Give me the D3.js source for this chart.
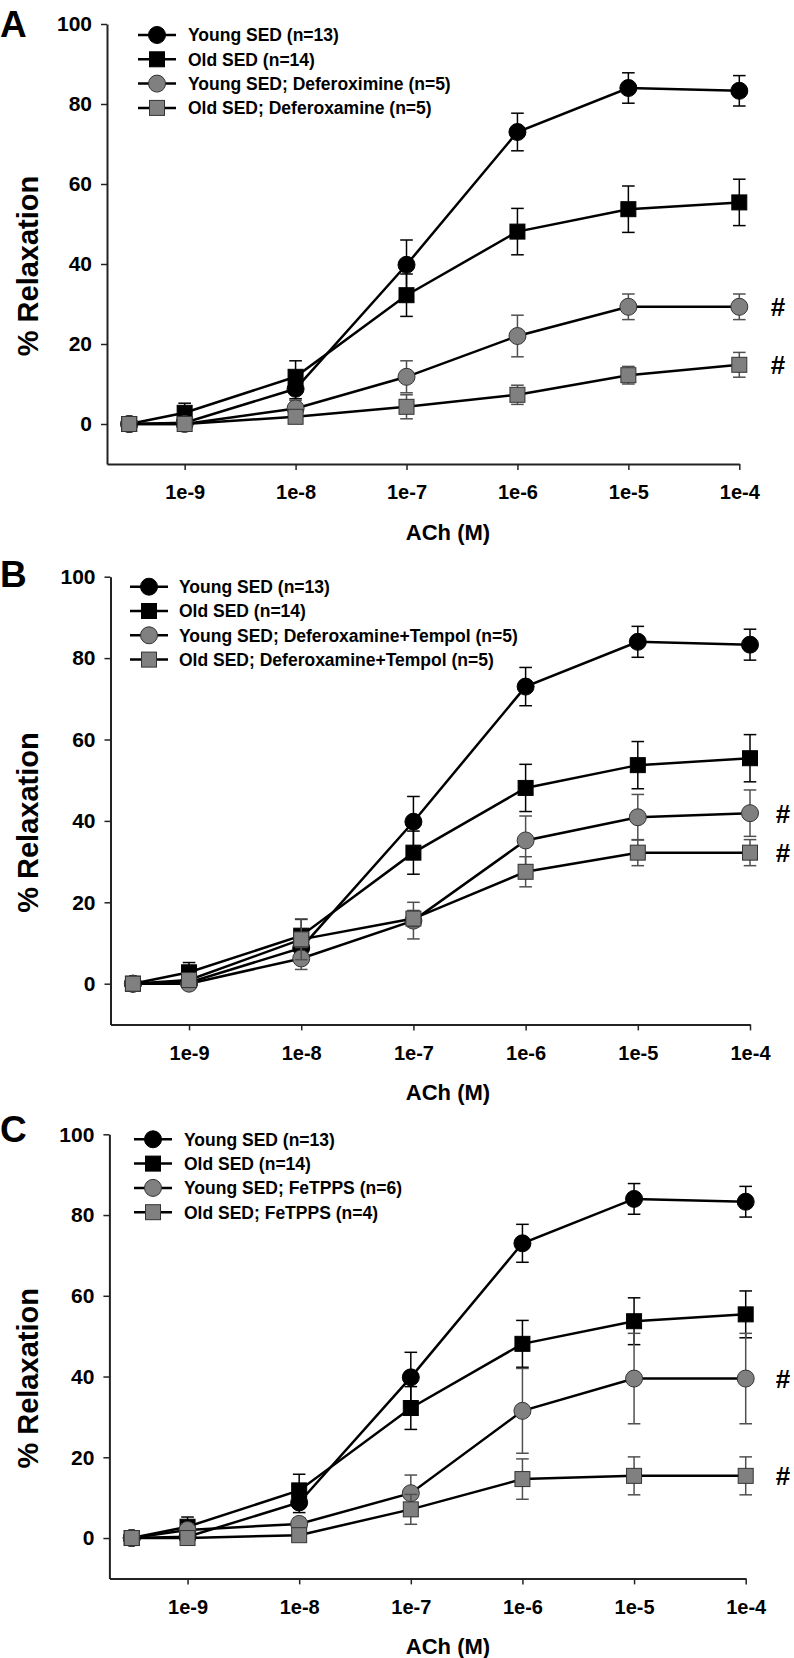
<!DOCTYPE html>
<html>
<head>
<meta charset="utf-8">
<script src="https://cdn.jsdelivr.net/npm/d3@7"></script>
<style>
  html, body { margin: 0; padding: 0; background: #fff; }
  svg text { font-family: "Liberation Sans", Arial, sans-serif; font-weight: bold; }
</style>
</head>
<body>
<svg id="chart" width="794" height="1658"></svg>
<script>
// ---------------- DATA ----------------
// log10 of ACh concentration (M); first point is the baseline (no ACh)
const logDose = [-9.5, -9, -8, -7, -6, -5, -4];
const xTickValues = [-9, -8, -7, -6, -5, -4];
const xTickLabels = ["1e-9", "1e-8", "1e-7", "1e-6", "1e-5", "1e-4"];
const yTickValues = [0, 20, 40, 60, 80, 100];

const youngSED    = [0, 0.3, 8.8, 39.8, 73.0, 84.0, 83.3];
const youngSEDErr = [0.5, 1.0, 2.5, 6.2, 4.7, 3.8, 3.8];
const oldSED      = [0, 2.8, 11.8, 32.2, 48.1, 53.7, 55.4];
const oldSEDErr   = [0.5, 2.4, 4.0, 5.3, 5.8, 5.8, 5.8];

const youngDef    = [0, 0, 3.9, 11.8, 22.0, 29.3, 29.3];
const youngDefErr = [1.8, 1.0, 2.0, 4.0, 5.2, 3.2, 3.2];
const oldDef      = [0, 0, 1.8, 4.3, 7.3, 12.2, 14.8];
const oldDefErr   = [1.8, 1.0, 1.0, 3.0, 2.4, 2.2, 3.1];

const youngDT     = [0, 0, 6.2, 15.5, 35.2, 40.9, 41.9];
const youngDTErr  = [1.5, 1.0, 2.7, 4.5, 6.0, 5.6, 5.7];
const oldDT       = [0, 0.9, 10.9, 16.0, 27.5, 32.2, 32.2];
const oldDTErr    = [1.5, 1.0, 5.0, 2.0, 3.7, 3.2, 3.2];

const youngFe     = [0, 2.0, 3.5, 11.1, 31.5, 39.5, 39.5];
const youngFeErr  = [1.5, 1.5, 1.5, 4.5, 10.5, 11.2, 11.2];
const oldFe       = [0, 0, 0.7, 7.1, 14.6, 15.4, 15.4];
const oldFeErr    = [1.5, 1.0, 1.0, 3.7, 5.0, 4.7, 4.7];

const legendA = ["Young SED (n=13)", "Old SED (n=14)", "Young SED; Deferoximine (n=5)", "Old SED; Deferoxamine (n=5)"];
const legendB = ["Young SED (n=13)", "Old SED (n=14)", "Young SED; Deferoxamine+Tempol (n=5)", "Old SED; Deferoxamine+Tempol (n=5)"];
const legendC = ["Young SED (n=13)", "Old SED (n=14)", "Young SED; FeTPPS (n=6)", "Old SED; FeTPPS (n=4)"];

const xTitle = "ACh (M)";
const yTitle = "% Relaxation";

// ---------------- LAYOUT ----------------
const panels = [
  { letter: "A", x0: 107, x1: 739.3, yTop: 24, yBot: 464, legX: 157, legTextX: 188, legY: 35, hashX: 778,
    labels: legendA, series: [[youngSED, youngSEDErr], [oldSED, oldSEDErr], [youngDef, youngDefErr], [oldDef, oldDefErr]],
    letterY: 37 },
  { letter: "B", x0: 110.5, x1: 750, yTop: 576.7, yBot: 1024.4, legX: 149, legTextX: 179, legY: 586.7, hashX: 783,
    labels: legendB, series: [[youngSED, youngSEDErr], [oldSED, oldSEDErr], [youngDT, youngDTErr], [oldDT, oldDTErr]],
    letterY: 587 },
  { letter: "C", x0: 109.4, x1: 745.7, yTop: 1134.3, yBot: 1578.4, legX: 153, legTextX: 184, legY: 1139.3, hashX: 783,
    labels: legendC, series: [[youngSED, youngSEDErr], [oldSED, oldSEDErr], [youngFe, youngFeErr], [oldFe, oldFeErr]],
    letterY: 1142 }
];

const styles = [
  { shape: "circle", fill: "#000", stroke: "#000", err: "#000" },
  { shape: "square", fill: "#000", stroke: "#000", err: "#000" },
  { shape: "circle", fill: "#808080", stroke: "#333", err: "#505050" },
  { shape: "square", fill: "#808080", stroke: "#333", err: "#505050" }
];

const svg = d3.select("#chart");
const R = 8.5, S = 15, CAP = 6.3;

function drawMarker(g, shape, cx, cy, st) {
  if (shape === "circle") {
    g.append("circle").attr("cx", cx).attr("cy", cy).attr("r", R)
      .attr("fill", st.fill).attr("stroke", st.stroke).attr("stroke-width", 1);
  } else {
    g.append("rect").attr("x", cx - S / 2).attr("y", cy - S / 2).attr("width", S).attr("height", S)
      .attr("fill", st.fill).attr("stroke", st.stroke).attr("stroke-width", 1);
  }
}

panels.forEach(p => {
  const g = svg.append("g");
  const x = d3.scaleLinear().domain([-9.7, -4]).range([p.x0, p.x1]);
  const y = d3.scaleLinear().domain([-10, 100]).range([p.yBot, p.yTop]);

  // axes
  const yAxis = g.append("g").attr("transform", `translate(${p.x0},0)`)
    .call(d3.axisLeft(y).tickValues(yTickValues).tickSize(6).tickSizeOuter(0).tickPadding(9));
  const xAxis = g.append("g").attr("transform", `translate(0,${p.yBot})`)
    .call(d3.axisBottom(x).tickValues(xTickValues).tickFormat((d, i) => xTickLabels[i])
      .tickSize(6).tickSizeOuter(0).tickPadding(15));
  [yAxis, xAxis].forEach(a => {
    a.select(".domain").attr("stroke", "#222").attr("stroke-width", 2);
    a.selectAll(".tick line").attr("stroke", "#222").attr("stroke-width", 1.5);
    a.selectAll(".tick text").attr("fill", "#000").style("font-weight", "bold")
      .style("font-family", '"Liberation Sans", Arial, sans-serif');
  });
  yAxis.selectAll(".tick text").style("font-size", "21px");
  xAxis.selectAll(".tick text").style("font-size", "20px");

  // titles
  g.append("text").attr("x", 448).attr("y", p.yBot + 76).attr("text-anchor", "middle")
    .style("font-size", "22px").text(xTitle);
  const yc = (y(100) + y(-10)) / 2 + 22;
  g.append("text").attr("transform", `translate(38,${yc}) rotate(-90)`).attr("text-anchor", "middle")
    .style("font-size", "29px").text(yTitle);
  g.append("text").attr("x", 0).attr("y", p.letterY).style("font-size", "37px").text(p.letter);

  // series
  p.series.forEach((s, si) => {
    const vals = s[0], errs = s[1], st = styles[si];
    const pts = logDose.map((d, i) => ({ x: d, v: vals[i], e: errs[i] }));
    const eg = g.append("g");
    pts.forEach(pt => {
      const cx = x(pt.x), top = y(pt.v + pt.e), bot = y(pt.v - pt.e);
      eg.append("line").attr("x1", cx).attr("x2", cx).attr("y1", top).attr("y2", bot)
        .attr("stroke", st.err).attr("stroke-width", 1.5);
      [top, bot].forEach(yy => eg.append("line").attr("x1", cx - CAP).attr("x2", cx + CAP)
        .attr("y1", yy).attr("y2", yy).attr("stroke", st.err).attr("stroke-width", 1.5));
    });
    g.append("path").datum(pts)
      .attr("d", d3.line().x(d => x(d.x)).y(d => y(d.v)))
      .attr("fill", "none").attr("stroke", "#000").attr("stroke-width", 2.5);
    const mg = g.append("g");
    pts.forEach(pt => drawMarker(mg, st.shape, x(pt.x), y(pt.v), st));
  });

  // significance marks
  [2, 3].forEach(si => {
    const v = p.series[si][0][logDose.length - 1];
    g.append("text").attr("x", p.hashX).attr("y", y(v)).attr("dy", "0.36em")
      .attr("text-anchor", "middle").style("font-size", "26px").text("#");
  });

  // legend
  p.labels.forEach((lab, i) => {
    const ly = p.legY + i * 24.3;
    const lg = g.append("g");
    lg.append("line").attr("x1", p.legX - 19).attr("x2", p.legX + 19).attr("y1", ly).attr("y2", ly)
      .attr("stroke", "#000").attr("stroke-width", 2.5);
    drawMarker(lg, styles[i].shape, p.legX, ly, styles[i]);
    lg.append("text").attr("x", p.legTextX).attr("y", ly).attr("dy", "0.36em")
      .style("font-size", "17.5px").text(lab);
  });
});
</script>
</body>
</html>
